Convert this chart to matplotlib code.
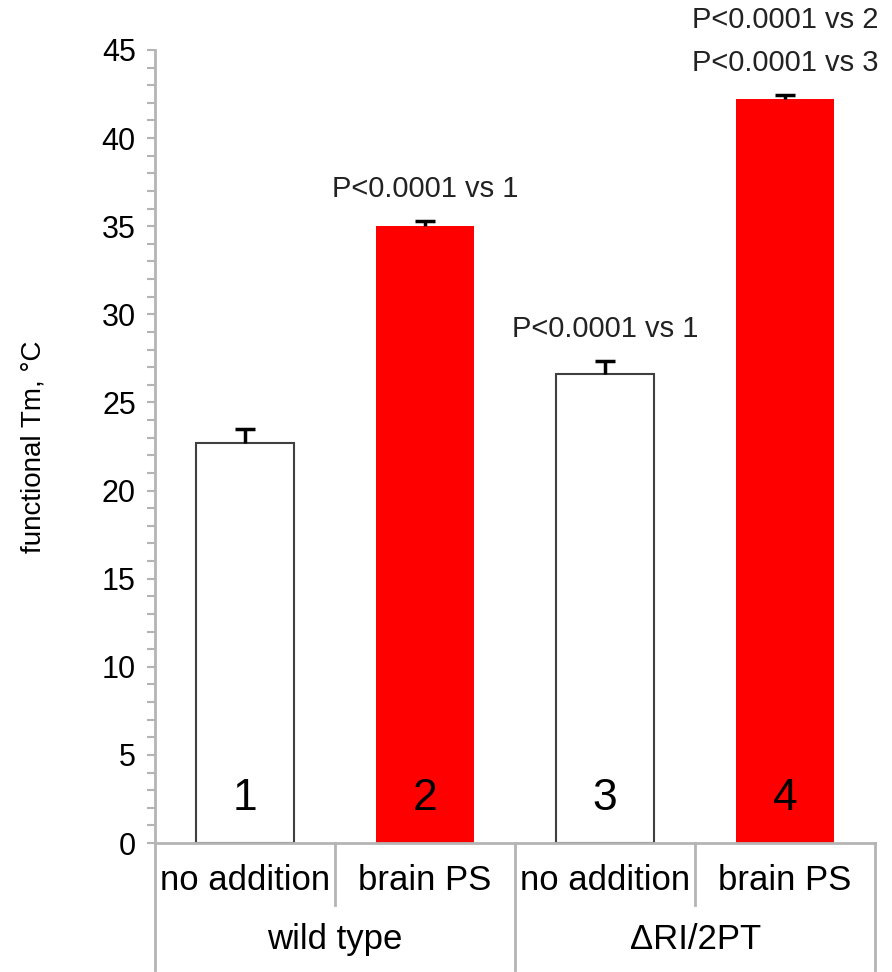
import matplotlib.pyplot as plt
from matplotlib.ticker import MultipleLocator

plt.rcParams['font.family'] = ['Liberation Sans', 'DejaVu Sans']

# data
conditions = ["no addition", "brain PS", "no addition", "brain PS"]
groups = ["wild type", "\u0394RI/2PT"]
bar_numbers = ["1", "2", "3", "4"]
tm_values = [22.7, 35.0, 26.6, 42.2]
tm_errors = [0.8, 0.3, 0.75, 0.25]
bar_colors = ["white", "#ff0000", "white", "#ff0000"]
p_labels = ["", "P<0.0001 vs 1", "P<0.0001 vs 1", "P<0.0001 vs 2\nP<0.0001 vs 3"]

gray = "#b4b4b4"

fig = plt.figure(figsize=(8.92, 9.72), dpi=100)
ax = fig.add_axes([0.174, 0.1327, 0.807, 0.8159])

x = list(range(len(tm_values)))
for i in x:
    edge = "#404040" if bar_colors[i] == "white" else "none"
    ax.bar(i, tm_values[i], width=0.545, color=bar_colors[i],
           edgecolor=edge, linewidth=1.5, zorder=2)
    eb = ax.errorbar(i, tm_values[i], yerr=[[0], [tm_errors[i]]], fmt="none",
                     ecolor="black", elinewidth=2.5, capsize=7, capthick=2.5, zorder=3)
    # only the upper cap, as in the original
    eb[1][0].set_visible(False)
    ax.text(i, 2.5, bar_numbers[i], ha="center", va="center", fontsize=32)
    if p_labels[i]:
        top = tm_values[i] + tm_errors[i]
        ax.text(i, top + 1.0, p_labels[i], ha="center", va="bottom",
                fontsize=21, color="#222222", linespacing=1.7)

ax.set_xlim(-0.5, 3.5)
ax.set_ylim(0, 45)
ax.yaxis.set_major_locator(MultipleLocator(5))
ax.yaxis.set_minor_locator(MultipleLocator(1))
ax.tick_params(axis="y", which="both", direction="out", length=6,
               width=1.5, color=gray, labelsize=22, pad=8)
ax.set_xticks([])

for s in ["top", "right"]:
    ax.spines[s].set_visible(False)
ax.spines["left"].set_color(gray)
ax.spines["left"].set_linewidth(2)
ax.spines["bottom"].set_color(gray)
ax.spines["bottom"].set_linewidth(2)

ax.set_ylabel("functional Tm, \u00b0C", fontsize=20, labelpad=40)

# category axis below the plot
tr = ax.get_xaxis_transform()
for xs in [0.5, 2.5]:
    ax.plot([xs, xs], [0, -0.078], transform=tr, color=gray, lw=2, clip_on=False)
for xs in [-0.5, 1.5, 3.5]:
    ax.plot([xs, xs], [0, -0.160], transform=tr, color=gray, lw=2, clip_on=False)
for i, lab in enumerate(conditions):
    ax.text(i, -0.047, lab, transform=tr, ha="center", va="center", fontsize=25)
for g, lab in enumerate(groups):
    ax.text(2 * g + 0.5, -0.122, lab, transform=tr, ha="center", va="center", fontsize=25)

fig.savefig("out.png", dpi=100)
